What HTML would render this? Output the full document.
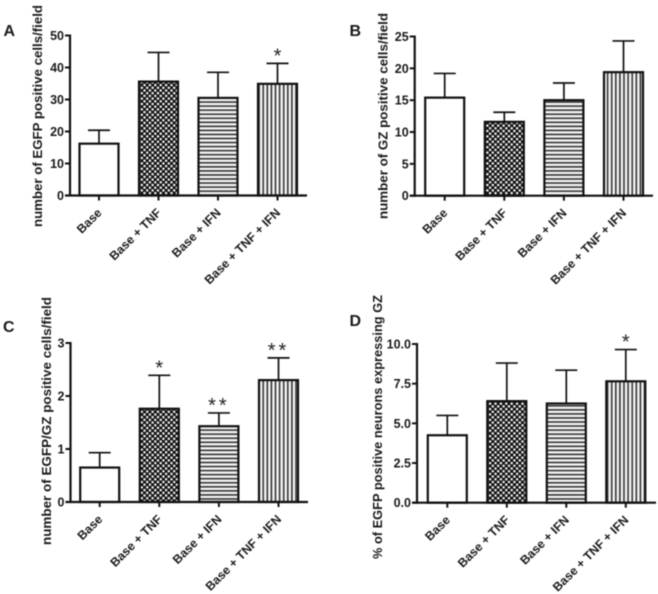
<!DOCTYPE html>
<html>
<head>
<meta charset="utf-8">
<title>Bar chart panels</title>
<style>
html,body{margin:0;padding:0;background:#fff;}
svg{display:block;filter:blur(0.45px);}
text{font-family:"Liberation Sans",sans-serif;font-weight:bold;fill:#1a1a1a;}
text.star{font-weight:normal;fill:#222;}
</style>
</head>
<body>
<svg id="figure" xmlns="http://www.w3.org/2000/svg" width="658" height="594" viewBox="0 0 658 594">
<defs>
<pattern id="pat-check" patternUnits="userSpaceOnUse" width="5.4" height="5.4">
<rect width="5.4" height="5.4" fill="#111"/>
<rect x="0.3" y="0.3" width="2.2" height="2.2" fill="#fff"/>
<rect x="3" y="3" width="2.2" height="2.2" fill="#fff"/>
</pattern>
<pattern id="pat-horizontal" patternUnits="userSpaceOnUse" width="4" height="4.05">
<rect width="4" height="4.05" fill="#f4f4f4"/>
<rect y="0" width="4" height="1.6" fill="#333"/>
</pattern>
<pattern id="pat-vertical" patternUnits="userSpaceOnUse" width="4.1" height="4">
<rect width="4.1" height="4" fill="#f4f4f4"/>
<rect x="0" width="1.6" height="4" fill="#333"/>
</pattern>
</defs>
</svg>
<script>
var categories = ["Base", "Base + TNF", "Base + IFN", "Base + TNF + IFN"];

var valuesA = [16.2, 35.6, 30.5, 34.9];
var errorTopsA = [20.4, 44.7, 38.5, 41.3];
var ticksA = [0, 10, 20, 30, 40, 50];
var starsA = ["", "", "", "*"];

var valuesB = [15.4, 11.6, 15.0, 19.4];
var errorTopsB = [19.2, 13.1, 17.7, 24.3];
var ticksB = [0, 5, 10, 15, 20, 25];
var starsB = ["", "", "", ""];

var valuesC = [0.65, 1.76, 1.43, 2.3];
var errorTopsC = [0.93, 2.39, 1.68, 2.72];
var ticksC = [0, 1, 2, 3];
var starsC = ["", "*", "**", "**"];

var valuesD = [4.25, 6.4, 6.25, 7.65];
var errorTopsD = [5.5, 8.8, 8.35, 9.65];
var ticksD = ["0.0", "2.5", "5.0", "7.5", "10.0"];
var starsD = ["", "", "", "*"];

var fills = ["#fff", "url(#pat-check)", "url(#pat-horizontal)", "url(#pat-vertical)"];
var SVG_NS = "http://www.w3.org/2000/svg";
var fig = document.getElementById("figure");

function mk(parent, tag, attrs, txt) {
  var el = document.createElementNS(SVG_NS, tag);
  for (var k in attrs) { el.setAttribute(k, attrs[k]); }
  if (txt !== undefined) { el.textContent = txt; }
  parent.appendChild(el);
  return el;
}

function drawPanel(p) {
  var g = mk(fig, "g", {});
  
  

  var maxV = Number(p.ticks[p.ticks.length - 1]);
  function y(v) { return p.y0 - (v / maxV) * (p.y0 - p.yTop); }
  function cx(i) { return p.c0 + i * p.step; }

  var letter = mk(g, "text", {x: p.letterX, y: p.letterY, "font-size": 16}, p.letter);
  
  

  var title = mk(g, "text", {
    transform: "translate(" + p.titleX + "," + p.titleBottom + ") rotate(-90)",
    "font-size": 13, textLength: p.titleLen, lengthAdjust: "spacingAndGlyphs"
  }, p.title);
  
  

  p.values.forEach(function (v, i) {
    var c = cx(i);
    var err = mk(g, "line", {x1: c, x2: c, y1: y(v), y2: y(p.tops[i]), stroke: "#111", "stroke-width": 1.7});
    
    
    var cap = mk(g, "line", {x1: c - 11, x2: c + 11, y1: y(p.tops[i]), y2: y(p.tops[i]), stroke: "#111", "stroke-width": 1.7});
    
    
    var bar = mk(g, "rect", {x: c - 19.5, y: y(v), width: 39, height: p.y0 - y(v), fill: fills[i], stroke: "#111", "stroke-width": 2.2});
    
    
    var tick = mk(g, "line", {x1: c, x2: c, y1: p.y0, y2: p.y0 + 5, stroke: "#111", "stroke-width": 2});
    
    
    var lx = c + 3.5, ly = p.y0 + 18;
    var lab = mk(g, "text", {transform: "translate(" + lx + "," + ly + ") rotate(-45)", "text-anchor": "end", "font-size": 12.3}, categories[i]);
    
    
    if (p.stars[i]) {
      var star = mk(g, "text", {"class": "star", x: c, y: y(p.tops[i]) - 1, "text-anchor": "middle", "font-size": 20, "letter-spacing": p.stars[i].length > 1 ? 3 : 0}, p.stars[i]);
      
      
    }
  });

  var yAxis = mk(g, "line", {x1: p.axisX, x2: p.axisX, y1: p.yTop - 1, y2: p.y0 + 1, stroke: "#111", "stroke-width": 2.2});
  
  
  var xAxis = mk(g, "line", {x1: p.axisX - 5, x2: p.xEnd, y1: p.y0, y2: p.y0, stroke: "#111", "stroke-width": 2.2});
  
  

  p.ticks.forEach(function (t) {
    var ty = y(Number(t));
    var tk = mk(g, "line", {x1: p.axisX - 5, x2: p.axisX, y1: ty, y2: ty, stroke: "#111", "stroke-width": 2});
    
    
    var tl = mk(g, "text", {x: p.axisX - 6, y: ty + 4.5, "text-anchor": "end", "font-size": 12.5}, t);
    
    
  });
}

drawPanel({id: "a", letter: "A", letterX: 3.5, letterY: 36, title: "number of EGFP positive cells/field",
  titleX: 42, titleBottom: 227, titleLen: 222, axisX: 70, xEnd: 307, yTop: 35.5, y0: 195.5,
  c0: 99, step: 59.5, values: valuesA, tops: errorTopsA, ticks: ticksA, stars: starsA});

drawPanel({id: "b", letter: "B", letterX: 349.5, letterY: 36, title: "number of GZ positive cells/field",
  titleX: 387.5, titleBottom: 219, titleLen: 206, axisX: 414.7, xEnd: 653, yTop: 36.5, y0: 195.7,
  c0: 444.7, step: 59.6, values: valuesB, tops: errorTopsB, ticks: ticksB, stars: starsB});

drawPanel({id: "c", letter: "C", letterX: 3, letterY: 332, title: "number of EGFP/GZ positive cells/field",
  titleX: 51, titleBottom: 545, titleLen: 248, axisX: 70.5, xEnd: 308, yTop: 343, y0: 502,
  c0: 99.7, step: 59.6, values: valuesC, tops: errorTopsC, ticks: ticksC, stars: starsC});

drawPanel({id: "d", letter: "D", letterX: 349.5, letterY: 326, title: "% of EGFP positive neurons expressing GZ",
  titleX: 382, titleBottom: 559, titleLen: 264, axisX: 417, xEnd: 656, yTop: 344, y0: 502.7,
  c0: 447.3, step: 59.5, values: valuesD, tops: errorTopsD, ticks: ticksD, stars: starsD});
</script>
</body>
</html>
